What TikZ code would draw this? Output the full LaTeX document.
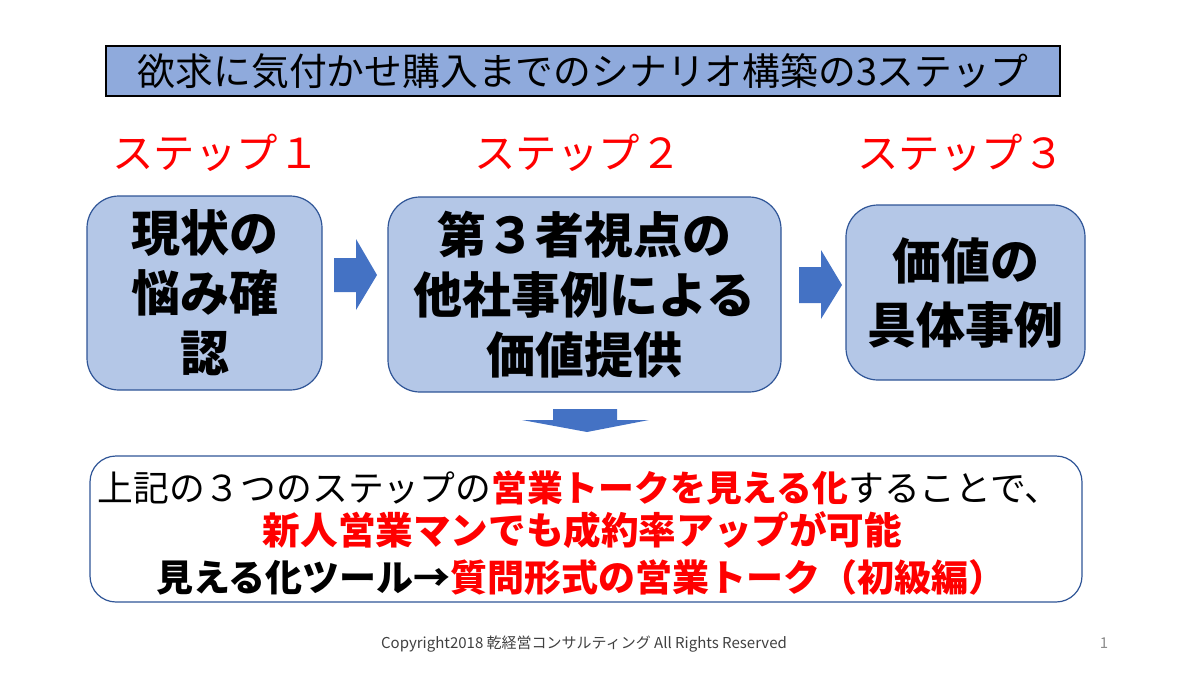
\documentclass[tikz,border=0pt]{standalone}
\usepackage{fontspec}
\setmainfont{Noto Sans CJK JP}
\usetikzlibrary{calc}
\definecolor{titlefill}{HTML}{8FAADC}
\definecolor{boxfill}{HTML}{B4C7E7}
\definecolor{boxline}{HTML}{2F5597}
\definecolor{arrowfill}{HTML}{4472C4}
\definecolor{redtxt}{HTML}{FF0000}
\definecolor{foot}{HTML}{404040}
\definecolor{pagenum}{HTML}{8C8C8C}
\newcommand{\fs}[2]{\fontsize{#1}{#2}\selectfont}
\tikzset{
  stepbox/.style={draw=boxline, line width=0.6pt, fill=boxfill, rounded corners=16pt,
    align=center, inner sep=0pt, font=\bfseries\fs{24.5pt}{30pt}},
  steplabel/.style={text=redtxt, font=\fs{20.7pt}{24pt}, inner sep=0pt},
  blockarrow/.style={fill=arrowfill, draw=none},
  textline/.style={inner sep=0pt, anchor=center}
}
\begin{document}
\begin{tikzpicture}[x=0.5pt, y=-0.5pt]
\useasboundingbox (0,0) rectangle (1200,675);
% title
\node[draw=black, line width=0.6pt, fill=titlefill, minimum width=477pt, minimum height=25pt,
  inner sep=0pt, font=\fs{18.9pt}{22pt}] (title) at (583,71) {欲求に気付かせ購入までのシナリオ構築の3ステップ};
% step labels
\node[steplabel] (s1) at (216,153) {ステップ１};
\node[steplabel] (s2) at (578,153) {ステップ２};
\node[steplabel] (s3) at (961,153) {ステップ３};
% step boxes
\node[stepbox, minimum width=117.5pt, minimum height=97pt] (b1) at (204.5,293)
  {現状の\\悩み確\\認};
\node[stepbox, minimum width=196.5pt, minimum height=97.5pt] (b2) at (584.5,294.5)
  {第３者視点の\\他社事例による\\価値提供};
\node[stepbox, minimum width=119.5pt, minimum height=87.5pt, font=\bfseries\fs{24.5pt}{32pt}] (b3) at (965.5,292.5)
  {価値の\\具体事例};
% block arrows
\fill[blockarrow] (334,258) -- (356,258) -- (356,239) -- (377,275) -- (356,310) -- (356,292) -- (334,292) -- cycle;
\fill[blockarrow] (799,267) -- (821,267) -- (821,250) -- (842,285) -- (821,319) -- (821,303) -- (799,303) -- cycle;
\fill[blockarrow] (553,409) -- (617,409) -- (617,420) -- (649,420) -- (587,432) -- (522,420) -- (553,420) -- cycle;
% summary box
\node[draw=boxline, line width=0.6pt, fill=white, rounded corners=13pt,
  minimum width=496pt, minimum height=73pt, inner sep=0pt] (sum) at (586,529) {};
\node[textline, font=\fs{17.9pt}{20pt}] (l1) at (579,488)
  {上記の３つのステップの\textcolor{redtxt}{\bfseries 営業トークを見える化}することで、};
\node[textline, font=\bfseries\fs{18.8pt}{22pt}, text=redtxt] (l2) at (582.5,530)
  {新人営業マンでも成約率アップが可能};
\node[textline, font=\bfseries\fs{18.5pt}{22pt}] (l3) at (581,577)
  {見える化ツール→\textcolor{redtxt}{質問形式の営業トーク（初級編）}};
% footer
\node[textline, text=foot, font=\fs{7.5pt}{9pt}] (foot) at (584,644)
  {Copyright2018 乾経営コンサルティング All Rights Reserved};
\node[textline, text=pagenum, font=\fs{7.5pt}{9pt}] (pg) at (1104,643) {1};
\end{tikzpicture}
\end{document}
